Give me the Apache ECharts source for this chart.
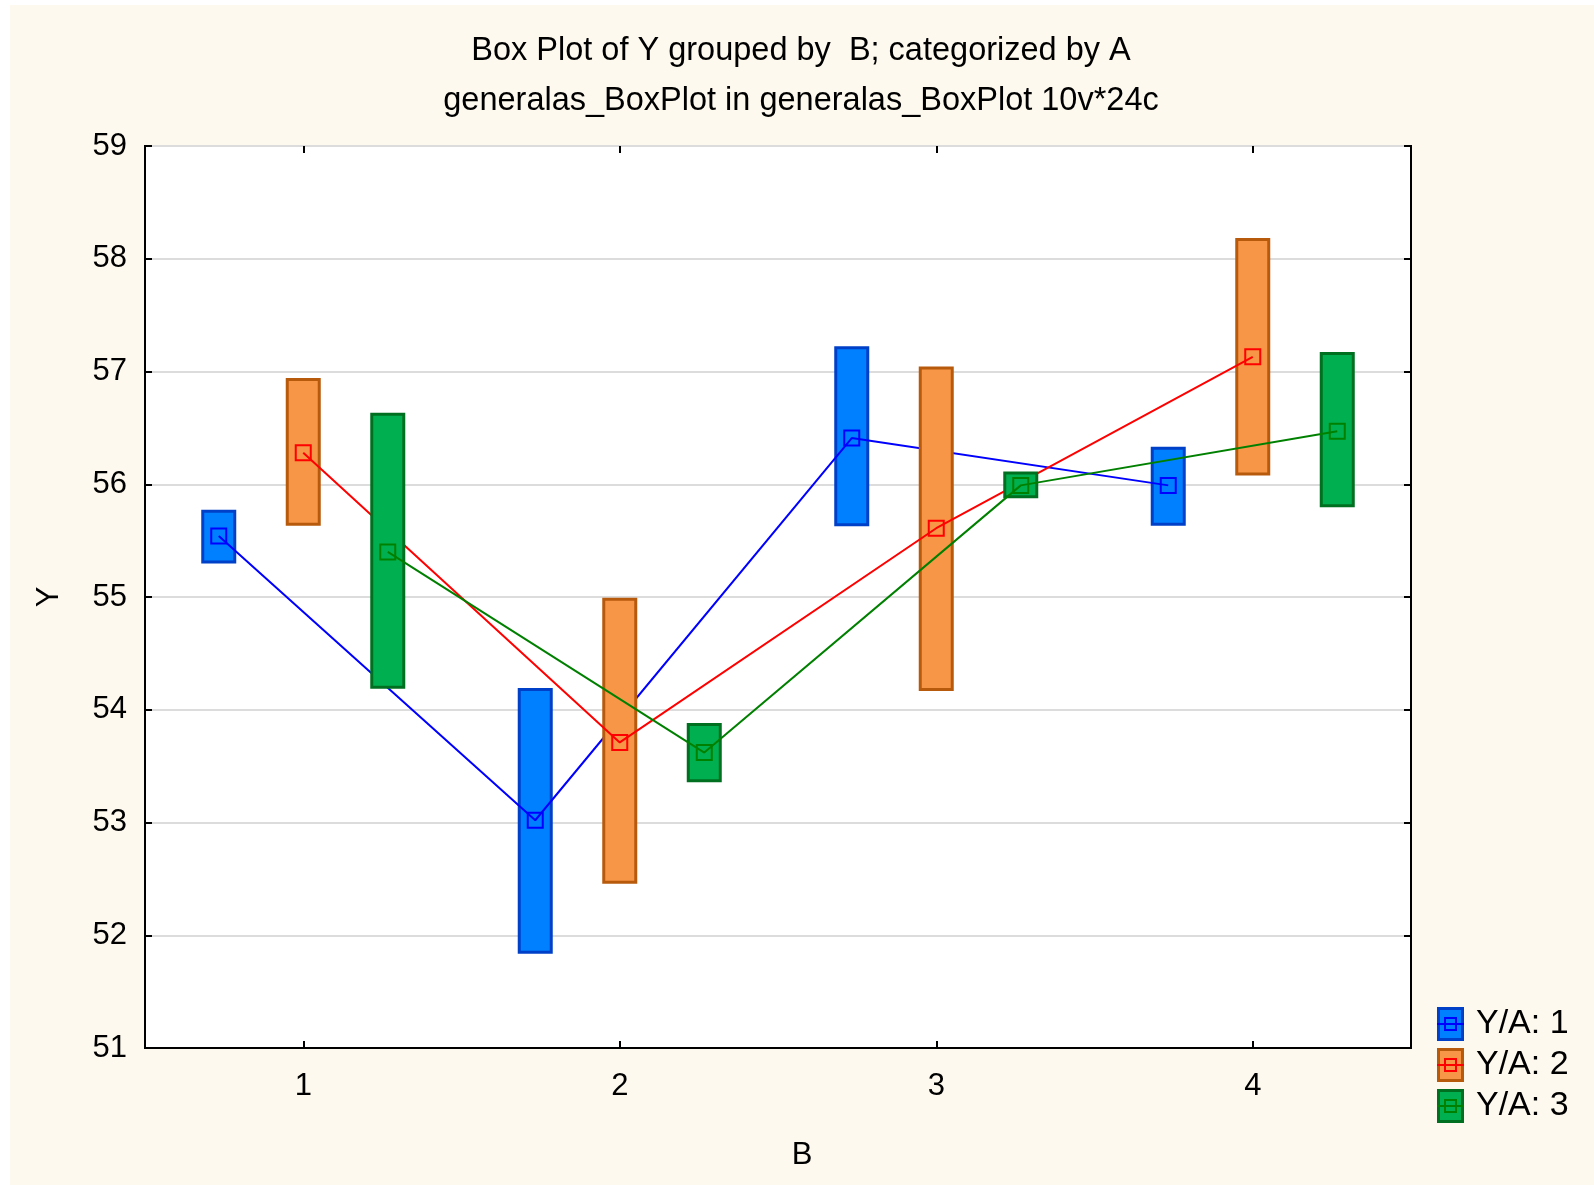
<!DOCTYPE html>
<html><head><meta charset="utf-8">
<script src="https://cdn.jsdelivr.net/npm/echarts@6/dist/echarts.min.js"></script>
<style>
html,body{margin:0;padding:0;background:#fff;width:1594px;height:1185px;overflow:hidden}
#c{position:absolute;left:10px;top:5px;width:1584px;height:1180px;background:#fdf9ee}
</style></head><body><div id="c"></div>
<script>
const categories = ['1','2','3','4'];
const yTicks = [51,52,53,54,55,56,57,58,59];
const groupNames = ['Y/A: 1','Y/A: 2','Y/A: 3'];
// mean, lower box edge, upper box edge per B category
const meanA1 = [55.54, 53.02, 56.41, 55.99];
const lowA1  = [55.31, 51.85, 55.64, 55.645];
const highA1 = [55.76, 54.18, 57.21, 56.32];
const meanA2 = [56.28, 53.71, 55.61, 57.13];
const lowA2  = [55.645, 52.47, 54.18, 56.09];
const highA2 = [56.93, 54.98, 57.03, 58.17];
const meanA3 = [55.40, 53.62, 55.99, 56.47];
const lowA3  = [54.20, 53.37, 55.89, 55.81];
const highA3 = [56.62, 53.87, 56.10, 57.16];

const groups = [
  {mean: meanA1, low: lowA1, high: highA1},
  {mean: meanA2, low: lowA2, high: highA2},
  {mean: meanA3, low: lowA3, high: highA3}
];
const offsets = [-0.267, 0, 0.267];
const fills = ['#0080ff', '#f79646', '#00b050'];
const borders = ['#0040c8', '#b85a0c', '#007020'];
const lineColors = ['#0000ff', '#ff0000', '#008000'];
const FONT = '"Liberation Sans", Arial, sans-serif';

function iconFor(i){
  const svg = `<svg xmlns="http://www.w3.org/2000/svg" width="27" height="34" viewBox="0 0 27 34">
<rect x="1.5" y="1.5" width="24" height="31" fill="${fills[i]}" stroke="${borders[i]}" stroke-width="3"/>
<line x1="0" y1="17" x2="27" y2="17" stroke="${lineColors[i]}" stroke-width="2"/>
<rect x="8" y="11" width="11" height="12" fill="none" stroke="${lineColors[i]}" stroke-width="2"/></svg>`;
  return 'image://data:image/svg+xml;charset=utf-8,' + encodeURIComponent(svg);
}

const series = [];
groups.forEach((g, i) => {
  series.push({
    type: 'custom', name: groupNames[i], xAxisIndex: 1, yAxisIndex: 0,
    z: 2 + i*2,
    data: categories.map((c, k) => [k + offsets[i], g.low[k], g.high[k]]),
    renderItem: function(params, api){
      const x = api.value(0);
      const p1 = api.coord([x, api.value(2)]);
      const p2 = api.coord([x, api.value(1)]);
      const w = 32;
      return {type:'rect', shape:{x:p1[0]-w/2, y:p1[1], width:w, height:p2[1]-p1[1]},
        style:{fill:fills[i], stroke:borders[i], lineWidth:3}};
    },
    silent: true
  });
  series.push({
    type: 'line', name: groupNames[i] + ' mean', xAxisIndex: 1, yAxisIndex: 0,
    z: 3 + i*2,
    data: categories.map((c, k) => [k + offsets[i], g.mean[k]]),
    symbol: 'rect', symbolSize: 15, showAllSymbol: true,
    itemStyle: {color: 'rgba(0,0,0,0)', borderColor: lineColors[i], borderWidth: 2},
    lineStyle: {color: lineColors[i], width: 2},
    silent: true, animation: false
  });
});

const chart = echarts.init(document.getElementById('c'), null, {renderer:'canvas'});
chart.setOption({
  animation: false,
  backgroundColor: 'transparent',
  title: {
    text: 'Box Plot of Y grouped by  B; categorized by A\ngeneralas_BoxPlot in generalas_BoxPlot 10v*24c',
    left: 786, top: 16, textAlign: 'center',
    textStyle: {fontFamily: FONT, fontSize: 32.5, fontWeight: 'normal', color: '#000', lineHeight: 50, align: 'center'}
  },
  legend: {
    data: groupNames.map((n, i) => ({name: n, icon: iconFor(i)})),
    orient: 'vertical', left: 1422, top: 997,
    itemWidth: 27, itemHeight: 34, itemGap: 7,
    textStyle: {fontFamily: FONT, fontSize: 34, color: '#000', padding:[0,0,0,7]},
    selectedMode: false
  },
  grid: {left: 135, top: 141, width: 1266, height: 902, show: true,
    backgroundColor: '#fff', borderColor: '#000', borderWidth: 2},
  xAxis: [
    {type: 'category', data: categories, boundaryGap: true, position: 'bottom',
     name: 'B', nameLocation: 'middle', nameGap: 92,
     nameTextStyle: {fontFamily: FONT, fontSize: 31, color: '#000', padding: [0, 0, 0, 48]},
     axisLine: {show: true, onZero: false, lineStyle: {color: '#000', width: 2}},
     axisTick: {show: true, inside: true, length: 7, alignWithLabel: true, lineStyle: {color: '#000', width: 2}},
     axisLabel: {fontFamily: FONT, fontSize: 31, color: '#000', margin: 23},
     splitLine: {show: false}},
    {type: 'value', min: -0.5, max: 3.5, show: false},
    {type: 'category', data: categories, boundaryGap: true, position: 'top',
     axisLine: {show: false},
     axisTick: {show: true, inside: true, length: 7, alignWithLabel: true, lineStyle: {color: '#000', width: 2}},
     axisLabel: {show: false}, splitLine: {show: false}}
  ],
  yAxis: [
    {type: 'value', min: yTicks[0], max: yTicks[yTicks.length-1], interval: 1,
     name: 'Y', nameLocation: 'middle', nameGap: 80, nameRotate: 90,
     nameTextStyle: {fontFamily: FONT, fontSize: 31, color: '#000'},
     axisLine: {show: true, onZero: false, lineStyle: {color: '#000', width: 2}},
     axisTick: {show: true, inside: true, length: 7, lineStyle: {color: '#000', width: 2}},
     axisLabel: {fontFamily: FONT, fontSize: 31, color: '#000', margin: 18},
     splitLine: {show: true, lineStyle: {color: '#dcdcdc', width: 2}}},
    {type: 'value', min: yTicks[0], max: yTicks[yTicks.length-1], interval: 1, position: 'right',
     axisLine: {show: false, onZero: false},
     axisTick: {show: true, inside: true, length: 7, lineStyle: {color: '#000', width: 2}},
     axisLabel: {show: false}, splitLine: {show: false}}
  ],
  series: series
});
</script></body></html>
